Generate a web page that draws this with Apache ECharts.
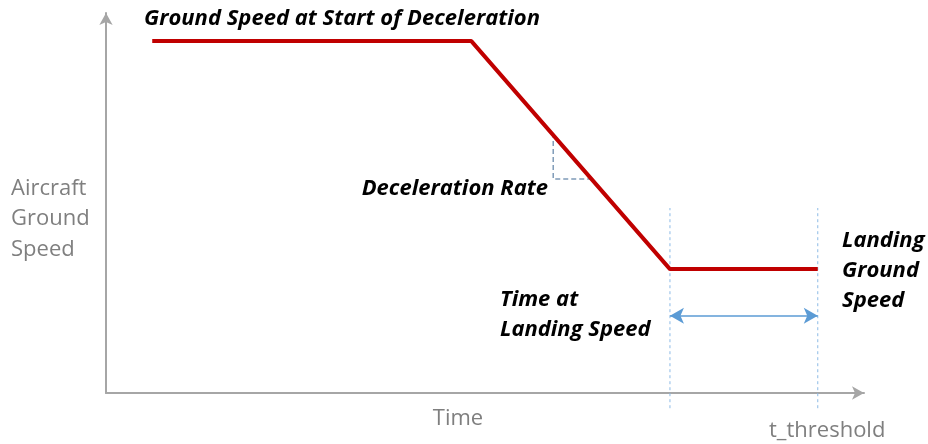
<!DOCTYPE html>
<html>
<head>
<meta charset="utf-8">
<script src="https://cdn.jsdelivr.net/npm/echarts@6/dist/echarts.min.js"></script>
<style>
  html, body { margin: 0; padding: 0; background: #fff; }
  #main { width: 928px; height: 444px; }
</style>
</head>
<body>
<div id="main"></div>
<script>
// profile of ground speed over time (arbitrary units, axis 0..100)
var times = [6.1, 48.2, 74.4, 93.9];
var speeds = [92.6, 92.6, 32.6, 32.6];

// guides: landing-speed time and threshold time
var tLanding = 74.4;
var tThreshold = 93.9;
var guideTop = 48.7;
var guideBottom = -4;
var spanY = 20.3;

// deceleration rate triangle
var rateX = [59.0, 59.0, 64.1];
var rateY = [68.4, 56.3, 56.3];

var font = '"Open Sans", Lato, sans-serif';

var chart = echarts.init(document.getElementById('main'));

var option = {
  animation: false,
  grid: { left: 106, right: 64, top: 13, bottom: 51 },
  xAxis: {
    type: 'value', min: 0, max: 100,
    axisLine: { show: true, symbol: ['none', 'arrow'], symbolSize: [10, 12],
      lineStyle: { color: '#a6a6a6', width: 2 } },
    axisTick: { show: false }, axisLabel: { show: false }, splitLine: { show: false }
  },
  yAxis: {
    type: 'value', min: 0, max: 100,
    axisLine: { show: true, symbol: ['none', 'arrow'], symbolSize: [10, 12],
      lineStyle: { color: '#a6a6a6', width: 2 } },
    axisTick: { show: false }, axisLabel: { show: false }, splitLine: { show: false }
  },
  series: [
    {
      type: 'line',
      data: times.map(function (t, i) { return [t, speeds[i]]; }),
      symbol: 'none',
      lineStyle: { color: '#c00000', width: 4 },
      z: 5
    },
    {
      type: 'line',
      data: [[tLanding, guideBottom], [tLanding, guideTop]],
      symbol: 'none', clip: false,
      lineStyle: { color: '#8dbbe6', width: 1, type: [3, 3] }
    },
    {
      type: 'line',
      data: [[tThreshold, guideBottom], [tThreshold, guideTop]],
      symbol: 'none', clip: false,
      lineStyle: { color: '#8dbbe6', width: 1, type: [3, 3] }
    },
    {
      type: 'line',
      data: rateX.map(function (x, i) { return [x, rateY[i]]; }),
      symbol: 'none',
      lineStyle: { color: '#7f9bb8', width: 1.5, type: [5, 3] }
    },
    {
      type: 'line',
      data: [],
      markLine: {
        silent: true,
        symbol: ['arrow', 'arrow'],
        symbolSize: [12, 14],
        label: { show: false },
        lineStyle: { color: '#5b9bd5', width: 1.5, type: 'solid' },
        data: [[{ coord: [tLanding, spanY] }, { coord: [tThreshold, spanY] }]]
      }
    }
  ],
  graphic: [
    { type: 'text', x: 144, y: 19, style: { text: 'Ground Speed at Start of Deceleration',
      font: 'italic bold 22px ' + font, fill: '#000', verticalAlign: 'middle' } },
    { type: 'text', x: 548, y: 189, style: { text: 'Deceleration Rate',
      font: 'italic bold 22px ' + font, fill: '#000', align: 'right', verticalAlign: 'middle' } },
    { type: 'text', x: 500, y: 285, style: { text: 'Time at\nLanding Speed',
      font: 'italic bold 22px ' + font, fill: '#000', lineHeight: 30, verticalAlign: 'top' } },
    { type: 'text', x: 842, y: 226, style: { text: 'Landing\nGround\nSpeed',
      font: 'italic bold 22px ' + font, fill: '#000', lineHeight: 30, verticalAlign: 'top' } },
    { type: 'text', x: 11, y: 173, style: { text: 'Aircraft\nGround\nSpeed',
      font: '22px ' + font, fill: '#7f7f7f', lineHeight: 30.5, verticalAlign: 'top' } },
    { type: 'text', x: 458, y: 419, style: { text: 'Time',
      font: '22px ' + font, fill: '#7f7f7f', align: 'center', verticalAlign: 'middle' } },
    { type: 'text', x: 769, y: 431, style: { text: 't_threshold',
      font: '22px ' + font, fill: '#7f7f7f', verticalAlign: 'middle' } }
  ]
};

chart.setOption(option);
</script>
</body>
</html>
